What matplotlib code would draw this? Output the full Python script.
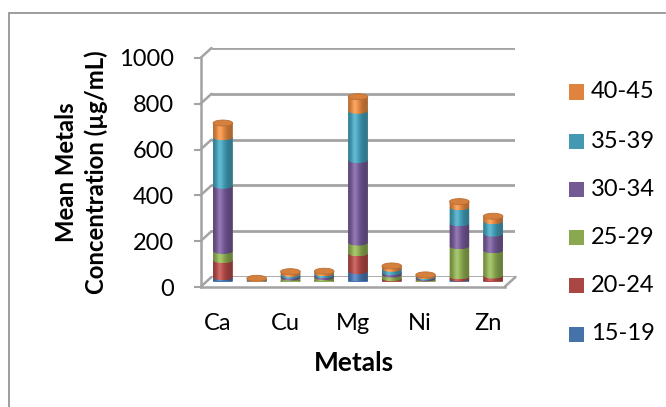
import numpy as np
import matplotlib
matplotlib.use("Agg")
import matplotlib.pyplot as plt
from matplotlib.patches import Rectangle, Ellipse, PathPatch, ConnectionPatch
from matplotlib.path import Path
from matplotlib.colors import to_rgb

plt.rcParams['font.family'] = ['Lato', 'DejaVu Sans']

# ---- data -------------------------------------------------------------
metals = ["Ca", "Cd", "Cu", "Fe", "Mg", "Mn", "Ni", "Pb", "Zn"]
age_groups = ["15-19", "20-24", "25-29", "30-34", "35-39", "40-45"]
g15_19 = [18, 2, 3, 3, 45, 4, 2, 12, 4]
g20_24 = [75, 1, 2, 2, 78, 10, 2, 10, 22]
g25_29 = [40, 3, 12, 14, 47, 16, 9, 132, 110]
g30_34 = [285, 2, 8, 8, 360, 10, 6, 100, 73]
g35_39 = [212, 2, 8, 8, 215, 15, 4, 70, 54]
g40_45 = [62, 4, 10, 10, 62, 13, 6, 25, 22]
series = [g15_19, g20_24, g25_29, g30_34, g35_39, g40_45]
y_ticks = [0, 200, 400, 600, 800, 1000]

colors = ["#4A78B2", "#B44B48", "#8FAF52", "#765B98", "#44A0BA", "#E88B42"]
legend_colors = ["#4672AA", "#AA4644", "#8AA84F", "#735A93", "#4499B2", "#E0833F"]

# ---- figure / layout (pixels) ------------------------------------------
W, H = 666, 407
fig = plt.figure(figsize=(W / 100, H / 100), dpi=100)
fig.patch.set_facecolor("white")

plot_w, plot_h = 304, 229   # width of category span, height of 0..1000
LABEL_SIZE = 17
YTITLE_SIZE = 17.2
XTITLE_SIZE = 19


def make_axes(left_px, zero_px, z):
    a = fig.add_axes([left_px / W, (H - zero_px) / H, plot_w / W, plot_h / H], zorder=z)
    a.set_xlim(-0.5, len(metals) - 0.5)
    a.set_ylim(0, 1000)
    a.patch.set_alpha(0)
    for s in a.spines.values():
        s.set_visible(False)
    a.set_xticks([])
    a.set_yticks([])
    return a


back = make_axes(211.5, 277, 1)    # back wall
mid = make_axes(206, 281.5, 3)     # plane of the columns
front = make_axes(200.5, 287, 4)   # front edge with axis labels

grid_col = "#A3A3A3"

# back wall gridlines
for v in y_ticks:
    back.plot([-0.5, len(metals) - 0.5], [v, v], color=grid_col, lw=2.0,
              solid_capstyle="butt", zorder=1)

# side wall diagonals and floor edges
for v in y_ticks:
    fig.add_artist(ConnectionPatch(xyA=(-0.5, v), coordsA=front.transData,
                                   xyB=(-0.5, v), coordsB=back.transData,
                                   color=grid_col, lw=1.8, zorder=2))
fig.add_artist(ConnectionPatch(xyA=(len(metals) - 0.5, 0), coordsA=front.transData,
                               xyB=(len(metals) - 0.5, 0), coordsB=back.transData,
                               color=grid_col, lw=1.8, zorder=2))

# front axis: vertical line, floor front edge, ticks and labels
front.spines["left"].set_visible(True)
front.spines["bottom"].set_visible(True)
for s in ("left", "bottom"):
    front.spines[s].set_color(grid_col)
    front.spines[s].set_linewidth(1.8)
front.set_yticks(y_ticks)
front.set_yticklabels([str(v) for v in y_ticks])
front.tick_params(axis="y", length=5, width=1.5, color=grid_col, pad=14,
                  labelsize=LABEL_SIZE, labelcolor="black")
front.set_xticks(range(len(metals)))
front.set_xticklabels([m if i % 2 == 0 else "" for i, m in enumerate(metals)])
front.tick_params(axis="x", length=0, pad=19, labelsize=LABEL_SIZE, labelcolor="black")

# ---- cylinders ----------------------------------------------------------
bar_w = 0.58
ell_h = 26.0   # vertical extent of the elliptical faces, in data units


def shade_row(base, n=64):
    u = np.linspace(0, 1, n)
    f = 0.74 + 0.34 * np.exp(-((u - 0.38) / 0.27) ** 2)
    rgb = np.clip(np.outer(f, np.array(to_rgb(base))), 0, 1)
    hl = 0.15 * np.exp(-((u - 0.33) / 0.12) ** 2)
    rgb = rgb + (1 - rgb) * hl[:, None]
    return rgb[None, :, :]


t = np.linspace(np.pi, 2 * np.pi, 40)
for i in range(len(metals)):
    bottom = 0.0
    for k, vals in enumerate(series):
        h = vals[i]
        y0, y1 = bottom, bottom + h
        cx = i
        xs = cx + bar_w / 2 * np.cos(t)
        ys = y0 + ell_h / 2 * np.sin(t)
        verts = list(zip(xs, ys)) + [(cx + bar_w / 2, y1), (cx - bar_w / 2, y1), (xs[0], ys[0])]
        codes = [Path.MOVETO] + [Path.LINETO] * (len(verts) - 2) + [Path.CLOSEPOLY]
        patch = PathPatch(Path(verts, codes), facecolor=colors[k], edgecolor="none", zorder=3)
        mid.add_patch(patch)
        im = mid.imshow(shade_row(colors[k]), extent=(cx - bar_w / 2, cx + bar_w / 2,
                                                      y0 - ell_h / 2, y1),
                        aspect="auto", interpolation="bilinear", zorder=3.1)
        im.set_clip_path(patch)
        bottom = y1
    # top face of the column
    top_rgb = np.array(to_rgb(colors[-1]))
    top_face = Ellipse((i, bottom), bar_w, ell_h,
                       facecolor=tuple(top_rgb * 0.92), edgecolor=tuple(top_rgb * 0.8),
                       lw=0.6, zorder=4)
    mid.add_patch(top_face)

mid.set_xlim(-0.5, len(metals) - 0.5)
mid.set_ylim(0, 1000)

# ---- titles --------------------------------------------------------------
fig.text(81.5 / W, 1 - 172.5 / H, "Mean Metals\nConcentration (µg/mL)", rotation=90,
         ha="center", va="center", fontsize=YTITLE_SIZE, fontweight="bold", linespacing=1.3)
fig.text(354 / W, 1 - 363 / H, "Metals", ha="center", va="center",
         fontsize=XTITLE_SIZE, fontweight="bold")

# ---- legend ----------------------------------------------------------------
legend_y = [334, 285, 237, 189, 141, 92]
for k, lab in enumerate(age_groups):
    yc = legend_y[k]
    fig.add_artist(Rectangle((569 / W, 1 - (yc + 7.5) / H), 15 / W, 15 / H,
                             transform=fig.transFigure, facecolor=legend_colors[k],
                             edgecolor="none"))
    fig.text(591 / W, 1 - yc / H, lab, ha="left", va="center", fontsize=LABEL_SIZE)

# ---- chart border ----------------------------------------------------------
fig.add_artist(Rectangle((9 / W, -0.1), 1.2, 1 - 13 / H + 0.1, transform=fig.transFigure,
                         facecolor="none", edgecolor="#8C8C8C", lw=1.2))

fig.savefig("out.png", dpi=100)
